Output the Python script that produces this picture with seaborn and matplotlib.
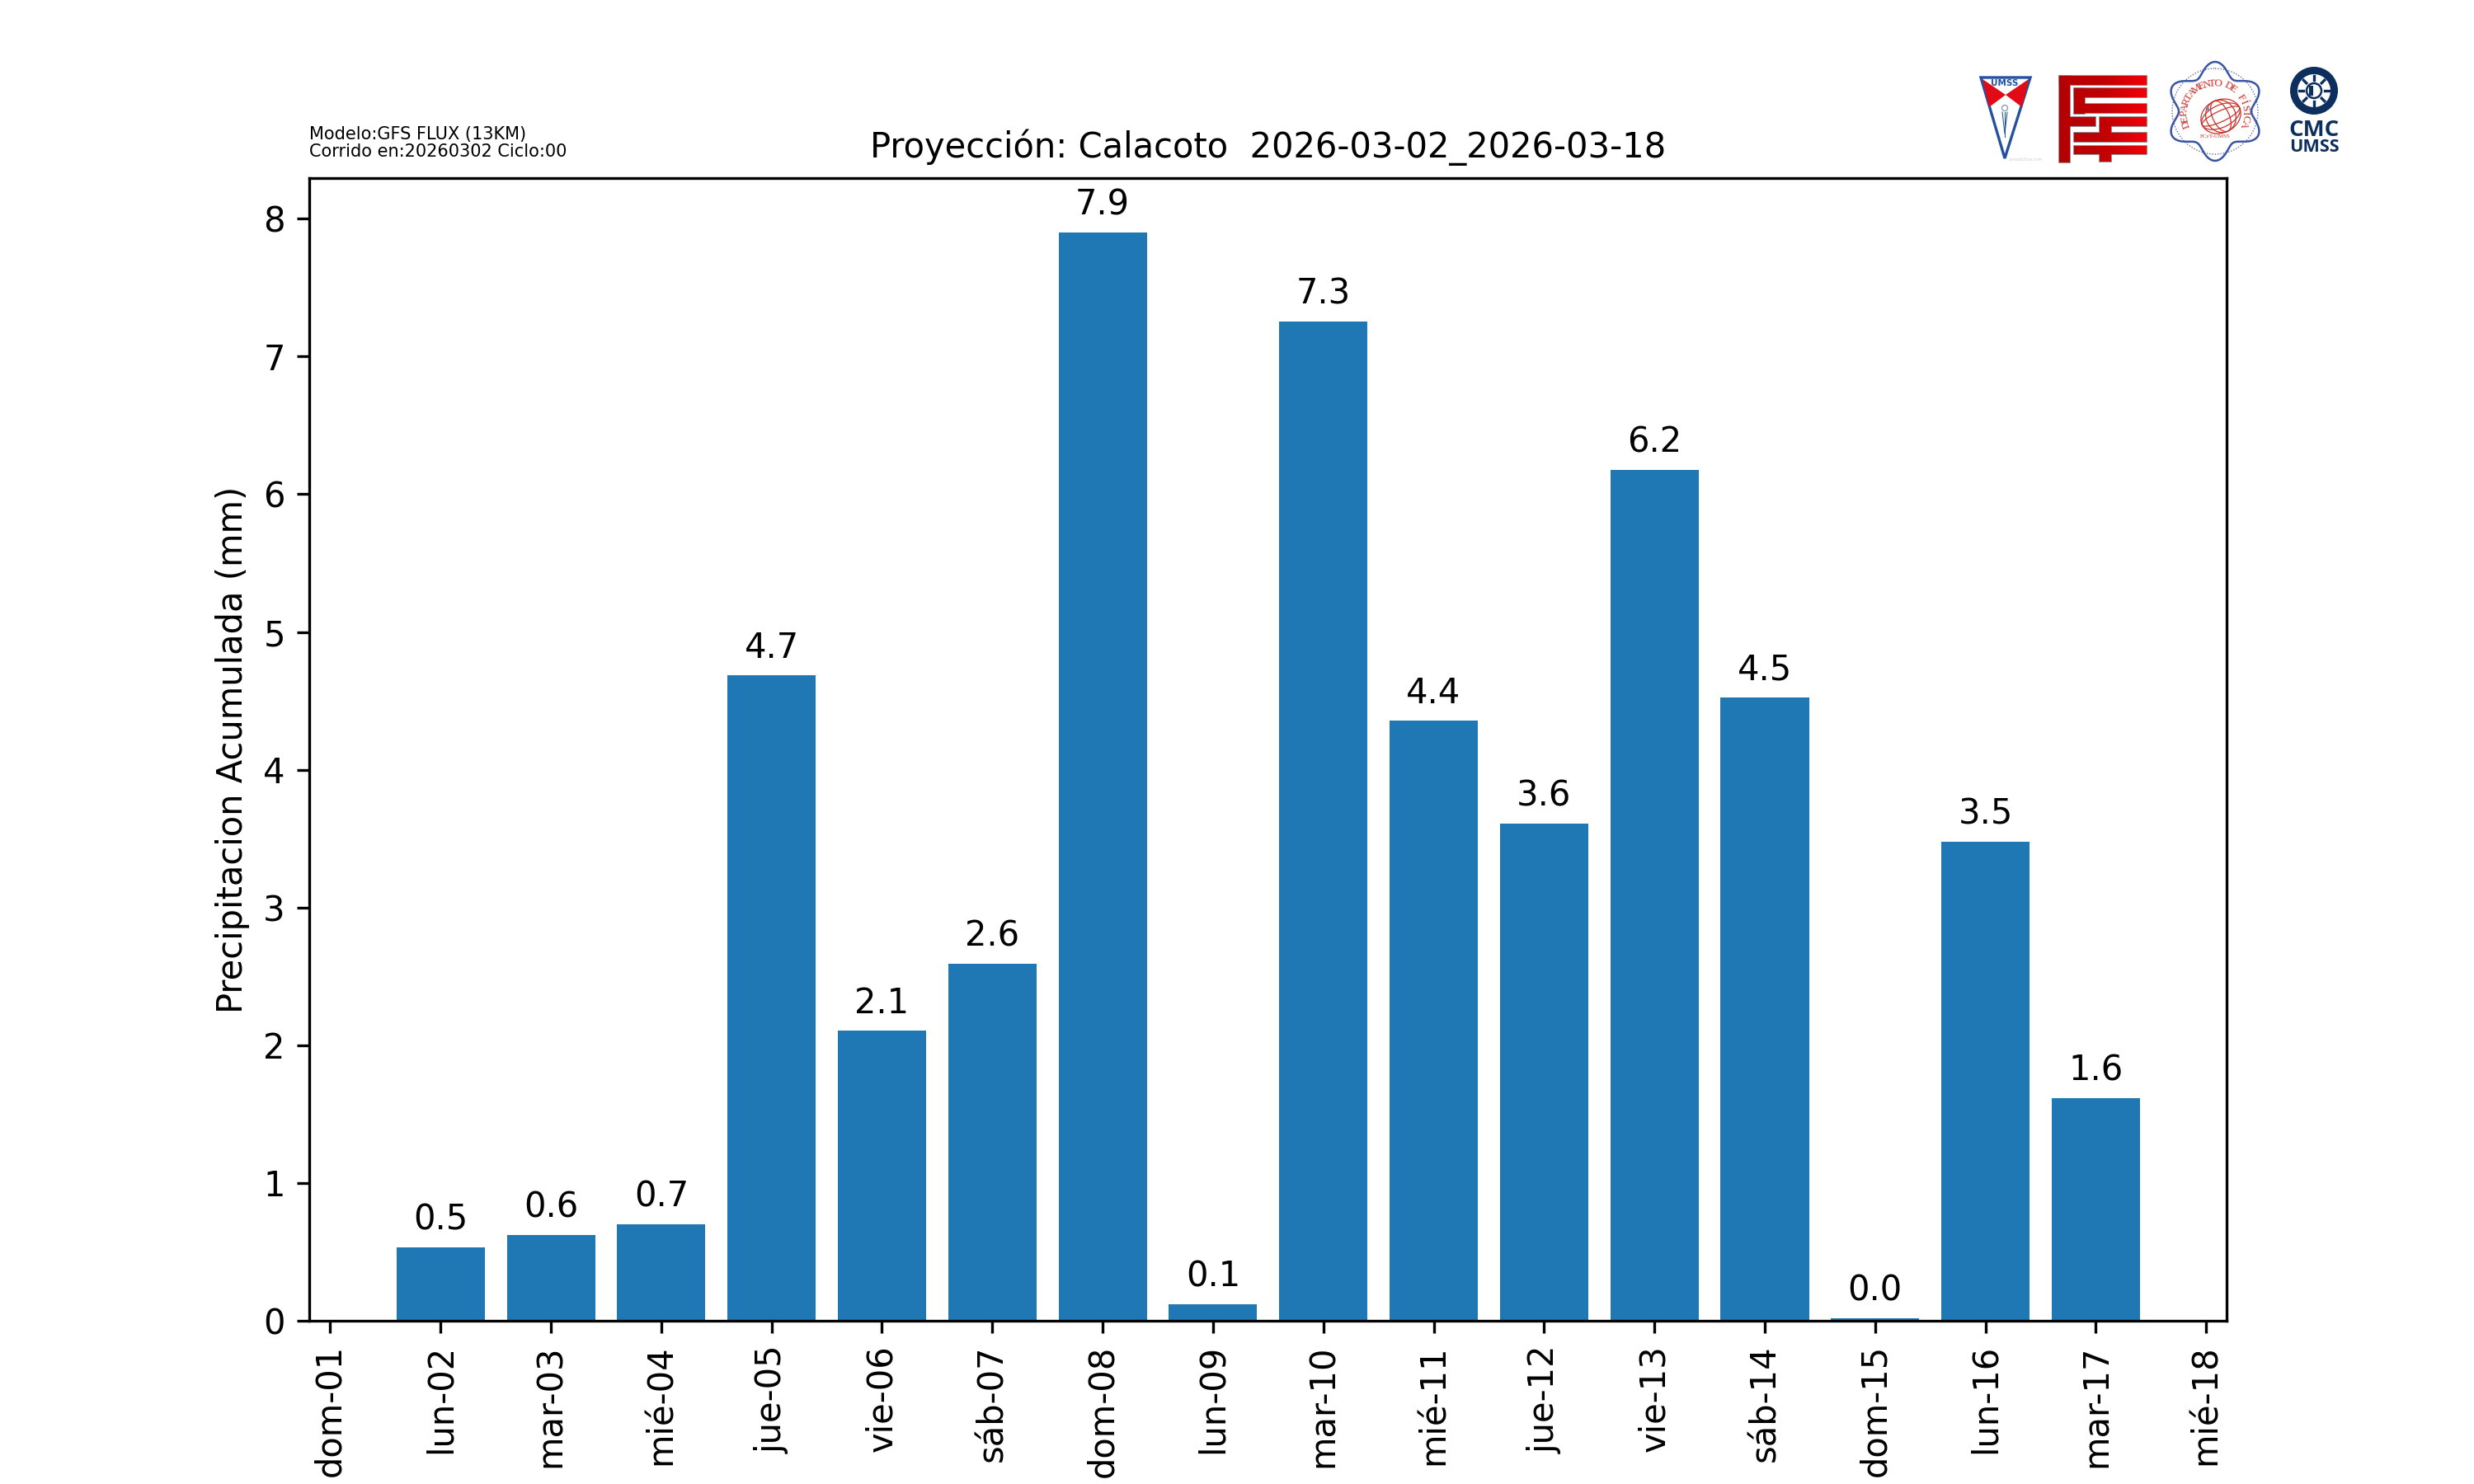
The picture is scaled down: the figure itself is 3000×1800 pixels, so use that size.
import numpy as np
import pandas as pd
import seaborn as sns
import matplotlib.pyplot as plt
from matplotlib.colors import LinearSegmentedColormap
from matplotlib.patches import Circle, Ellipse, Polygon, Rectangle

# Precipitacion diaria
dias = [1, 2, 3, 4, 5, 6, 7, 8, 9, 10, 11, 12, 13, 14, 15, 16]
precipitacion = [0.53, 0.62, 0.70, 4.685, 2.105, 2.59, 7.90, 0.12, 7.255, 4.355, 3.61, 6.175, 4.525, 0.02, 3.48, 1.615]
etiquetas = ['dom-01', 'lun-02', 'mar-03', 'mié-04', 'jue-05', 'vie-06', 'sáb-07', 'dom-08', 'lun-09',
             'mar-10', 'mié-11', 'jue-12', 'vie-13', 'sáb-14', 'dom-15', 'lun-16', 'mar-17', 'mié-18']

titulo = 'Proyección: Calacoto  2026-03-02_2026-03-18'
modelo = 'Modelo:GFS FLUX (13KM)\nCorrido en:20260302 Ciclo:00'

df = pd.DataFrame({'dia': dias, 'pp': precipitacion})

fig, ax = plt.subplots(figsize=(10, 6), dpi=300)

sns.barplot(data=df, x='dia', y='pp', native_scale=True, width=0.8, color='#1f77b4', saturation=1, ax=ax)
ax.bar_label(ax.containers[0], fmt='%.1f', padding=3)

ax.set_xticks(range(len(etiquetas)))
ax.set_xticklabels(etiquetas, rotation=90)
ax.set_xlim(-0.19, 17.185)
ax.set_ylim(0, 8.295)
ax.set_xlabel('')
ax.set_ylabel('Precipitacion Acumulada (mm)')
ax.set_title(titulo, fontsize=10)
fig.text(0.125, 0.892, modelo, fontsize=5, va='bottom', ha='left', linespacing=1.1)

# Capa para los logos, en pixeles de la figura
logos = fig.add_axes([0, 0, 1, 1], zorder=5)
logos.axis('off')

# Logo UMSS
azul = '#23509f'
rojo = '#e30a17'
logos.add_patch(Polygon([(2402, 94), (2462, 94), (2431, 192)], fc='white', ec=azul, lw=0.8))
logos.add_patch(Polygon([(2404, 96), (2432, 115), (2412, 130)], fc=rojo, ec='none'))
logos.add_patch(Polygon([(2460, 96), (2432, 115), (2452, 130)], fc=rojo, ec='none'))
logos.text(2431, 101, 'UMSS', color=azul, fontsize=2.5, fontweight='bold', ha='center', va='center')
logos.add_patch(Circle((2431, 131), 3.5, fc='none', ec='#7f97c8', lw=0.3))
logos.plot([2431, 2431], [136, 166], color=azul, lw=0.25)
logos.plot([2428, 2431, 2434], [136, 162, 136], color=azul, lw=0.25)
logos.text(2457, 193, 'preadictivo.com', color='#cccccc', fontsize=1.2, ha='center', va='center')

# Logo FCyT, barras con degradado de rojo
barras = [(2497, 92, 106, 11), (2497, 92, 13, 105), (2515, 107, 88, 11), (2515, 107, 13, 31),
          (2528, 126, 75, 11), (2510, 142, 31, 11), (2546, 142, 57, 11), (2546, 153, 14, 8),
          (2515, 161, 88, 11), (2515, 177, 88, 10), (2546, 187, 14, 9)]
degradado = LinearSegmentedColormap.from_list('fcyt', ['#b40005', '#c00004', '#f00008'])
for x, y, w, h in barras:
    logos.add_patch(Rectangle((x, y), w, h, fc='none', ec='#808080', lw=0.4))
for x, y, w, h in barras:
    tramo = np.linspace((x - 2497) / 106, (x + w - 2497) / 106, 40).reshape(1, -1)
    logos.imshow(tramo, extent=(x, x + w, y + h, y), cmap=degradado, vmin=0, vmax=1, aspect='auto',
                 interpolation='bilinear', zorder=2)

# Logo Departamento de Fisica
cx, cy = 2686, 135
th = np.linspace(0, 2 * np.pi, 400)
r = 52 + 8 * np.cos(6 * (th - np.pi / 2))
logos.plot(cx + r * np.cos(th), cy - r * np.sin(th), color='#3a55a4', lw=0.6)
logos.add_patch(Circle((cx, cy), 52, fc='none', ec='#3a55a4', lw=0.3, ls=':'))
rojo_d = '#c8322a'
letras = 'DEPARTAMENTO DE FÍSICA'
angulos = np.linspace(200, -20, len(letras))
for letra, ang in zip(letras, angulos):
    a = np.radians(ang)
    logos.text(cx + 37 * np.cos(a), 138 - 37 * np.sin(a), letra, color=rojo_d, fontsize=3.2,
               family='Liberation Serif', rotation=ang - 90, ha='center', va='center')
logos.text(cx, 166, 'FCyT-UMSS', color=rojo_d, fontsize=1.7, family='Liberation Serif', ha='center', va='center')
for w, h in [(50, 40), (36, 40), (20, 40), (50, 27), (50, 13)]:
    logos.add_patch(Ellipse((2693, 141), w, h, angle=-25, fc='none', ec=rojo_d, lw=0.3))
logos.add_patch(Circle((2677, 132), 2, fc='#6f7fc0', ec='none'))

# Logo CMC
azul_c = '#0d2f5e'
mx, my = 2806, 110
logos.add_patch(Circle((mx, my), 29, fc=azul_c, ec='none'))
logos.add_patch(Circle((mx, my), 20, fc='white', ec='none'))
logos.add_patch(Circle((mx, my), 9, fc='white', ec=azul_c, lw=0.6))
logos.add_patch(Rectangle((mx - 6, my - 6), 5, 12, fc=azul_c, ec='none'))
for ang in np.arange(0, 360, 45):
    a = np.radians(ang)
    logos.plot([mx + 13 * np.cos(a), mx + 18 * np.cos(a)], [my + 13 * np.sin(a), my + 18 * np.sin(a)],
               color=azul_c, lw=0.8)
logos.text(mx, 158, 'CMC', color=azul_c, fontsize=6.6, family='Open Sans', fontweight='bold', ha='center', va='center')
logos.text(mx, 179, 'UMSS', color=azul_c, fontsize=5.2, family='Open Sans', fontweight='bold', ha='center', va='center')

logos.set_xlim(0, 3000)
logos.set_ylim(1800, 0)

fig.savefig('out.png', dpi=300)
